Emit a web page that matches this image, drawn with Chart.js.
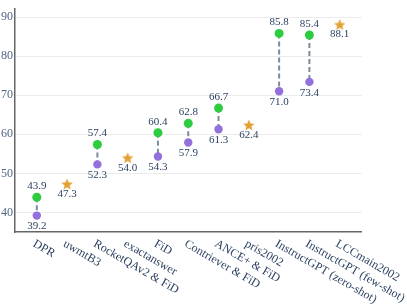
<!DOCTYPE html>
<html>
<head>
<meta charset="utf-8">
<script src="https://cdn.jsdelivr.net/npm/chart.js@4"></script>
<style>
  body { margin: 0; background: #fff; }
</style>
</head>
<body>
<canvas id="myChart" width="407" height="305"></canvas>
<script>
const categories = [
    'DPR',
    'uwmtB3',
    'RocketQAv2 & FiD',
    'exactanswer',
    'FiD',
    'Contriever & FiD',
    'ANCE+ & FiD',
    'pris2002',
    'InstructGPT (zero-shot)',
    'InstructGPT (few-shot)',
    'LCCmain2002',
];
const highScores = [43.9, null, 57.4, null, 60.4, 62.8, 66.7, null, 85.8, 85.4, null];
const lowScores = [39.2, null, 52.3, null, 54.3, 57.9, 61.3, null, 71.0, 73.4, null];
const singleScores = [null, 47.3, null, 54.0, null, null, null, 62.4, null, null, 88.1];
const yTicks = [40, 50, 60, 70, 80, 90];

const textColor = '#2a3f5f';
const fontFamily = "'Liberation Serif', serif";

function toPoints(values){
    return values.map((v, i) => ({x: i, y: v})).filter(p => p.y !== null);
}

// dashed connectors between the two scores of a system
const connectors = [];
categories.forEach((c, i) => {
    if (highScores[i] !== null && lowScores[i] !== null) {
        connectors.push({x: i, y: highScores[i]});
        connectors.push({x: i, y: lowScores[i]});
        connectors.push({x: i, y: null});
    }
});

// filled five point star
function makeStar(r, color){
    const c = document.createElement('canvas');
    const size = Math.ceil(r * 2) + 2;
    c.width = size;
    c.height = size;
    const g = c.getContext('2d');
    g.fillStyle = color;
    g.beginPath();
    for (let k = 0; k < 10; k++) {
        const rad = k % 2 === 0 ? r : r * 0.45;
        const a = -Math.PI / 2 + k * Math.PI / 5;
        const px = size / 2 + rad * Math.cos(a);
        const py = size / 2 + 0.6 + rad * Math.sin(a);
        if (k === 0) g.moveTo(px, py); else g.lineTo(px, py);
    }
    g.closePath();
    g.fill();
    return c;
}
const starImg = makeStar(6, '#e2a233');

const valueLabels = {
    id: 'valueLabels',
    afterDatasetsDraw(chart){
        const ctx = chart.ctx;
        ctx.save();
        ctx.font = '11px ' + fontFamily;
        ctx.fillStyle = textColor;
        ctx.textAlign = 'center';
        ctx.textBaseline = 'middle';
        chart.data.datasets.forEach((ds, di) => {
            if (!ds.labelOffset) return;
            const meta = chart.getDatasetMeta(di);
            meta.data.forEach((el, j) => {
                ctx.fillText(ds.data[j].y.toFixed(1), el.x, el.y + ds.labelOffset);
            });
        });
        ctx.restore();
    }
};

const categoryLabels = {
    id: 'categoryLabels',
    afterDraw(chart){
        const ctx = chart.ctx;
        const xs = chart.scales.x;
        ctx.save();
        ctx.font = '12px ' + fontFamily;
        ctx.fillStyle = textColor;
        ctx.textAlign = 'left';
        ctx.textBaseline = 'middle';
        categories.forEach((c, i) => {
            ctx.save();
            ctx.translate(xs.getPixelForValue(i) - 3, chart.chartArea.bottom + 11);
            ctx.rotate(Math.PI / 6);
            ctx.fillText(c, 0, 0);
            ctx.restore();
        });
        ctx.restore();
    }
};

new Chart(document.getElementById('myChart'), {
    type: 'scatter',
    data: {
        datasets: [
            {
                data: toPoints(highScores),
                backgroundColor: '#2ecc40',
                pointRadius: 4.5,
                borderWidth: 0,
                labelOffset: -11,
            },
            {
                data: toPoints(lowScores),
                backgroundColor: '#9370db',
                pointRadius: 4.2,
                borderWidth: 0,
                labelOffset: 11,
            },
            {
                data: toPoints(singleScores),
                pointStyle: starImg,
                labelOffset: 10,
            },
            {
                type: 'line',
                data: connectors,
                showLine: true,
                spanGaps: false,
                borderColor: '#7d8b9c',
                borderWidth: 2,
                borderDash: [5, 3],
                pointRadius: 0,
            },
        ],
    },
    options: {
        responsive: false,
        animation: false,
        layout: { padding: { top: 4, right: 45.5, left: 0, bottom: 0 } },
        plugins: {
            legend: { display: false },
            tooltip: { enabled: false },
        },
        scales: {
            x: {
                type: 'linear',
                min: -0.72,
                max: 10.72,
                ticks: { display: false },
                grid: { display: false },
                border: { display: true, color: '#666', width: 1.5 },
                afterFit: (s) => { s.height = 73; },
            },
            y: {
                min: 35,
                max: 92,
                afterBuildTicks: (s) => { s.ticks = yTicks.map(v => ({value: v})); },
                ticks: {
                    padding: 2,
                    color: '#506784',
                    font: { family: fontFamily, size: 12 },
                },
                grid: { color: '#ebebeb', drawTicks: false },
                border: { display: true, color: '#666', width: 1.5 },
                afterFit: (s) => { s.width = 15; },
            },
        },
    },
    plugins: [valueLabels, categoryLabels],
});
</script>
</body>
</html>
